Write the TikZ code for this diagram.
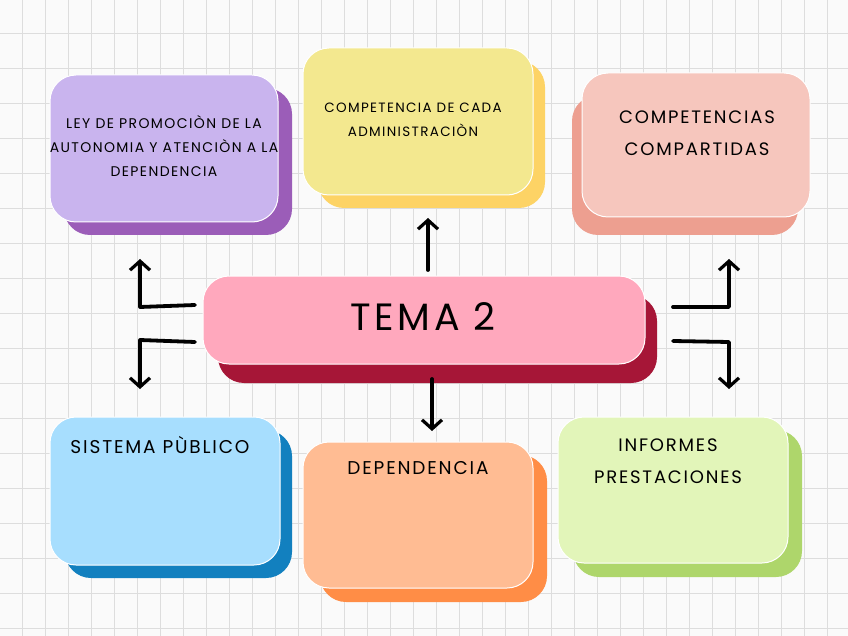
\documentclass[tikz,border=0pt]{standalone}
\usepackage{fontspec}
\setmainfont{Poppins}[LetterSpace=10]
\usetikzlibrary{arrows.meta}
\definecolor{bgc}{HTML}{FAFAFA}
\definecolor{gridc}{HTML}{DDDDDD}
\definecolor{purF}{HTML}{C9B4EE}\definecolor{purS}{HTML}{9B5DB8}
\definecolor{yelF}{HTML}{F3E88F}\definecolor{yelS}{HTML}{FDD365}
\definecolor{salF}{HTML}{F6C6BD}\definecolor{salS}{HTML}{ED9F90}
\definecolor{pinF}{HTML}{FFA8BD}\definecolor{pinS}{HTML}{A61637}
\definecolor{bluF}{HTML}{A7DEFE}\definecolor{bluS}{HTML}{1280BF}
\definecolor{oraF}{HTML}{FFBC93}\definecolor{oraS}{HTML}{FF8D46}
\definecolor{greF}{HTML}{E2F5B9}\definecolor{greS}{HTML}{AED66B}
\tikzset{
  shadowbox/.style={rounded corners=26pt},
  frontbox/.style={rounded corners=26pt, draw=white, line width=1pt},
  label/.style={align=center, inner sep=0pt, text=black},
  arr/.style={line width=3.8pt, line cap=round, line join=round,
    -{Straight Barb[length=9pt,width=20pt,line width=3.2pt]}},
}
\begin{document}
\begin{tikzpicture}[x=1pt,y=-1pt]
\useasboundingbox (0,0) rectangle (848,636);
\fill[bgc] (0,0) rectangle (848,636);
% grid paper
\foreach \i in {0,...,36} {\draw[gridc, line width=0.5pt] ({22+23*\i},0) -- ({22+23*\i},636);}
\foreach \j in {0,...,18} {\draw[gridc, line width=0.5pt] (0,{33+35*\j}) -- (848,{33+35*\j});}
% purple card
\fill[purS, shadowbox] (64,88) rectangle (292,235);
\fill[purF, frontbox] (50,75) rectangle (278,222);
\node[label, font=\fontsize{14}{24}\selectfont] (ley) at (164,146)
  {LEY DE PROMOCIÒN DE LA\\AUTONOMIA Y ATENCIÒN A LA\\DEPENDENCIA};
% yellow card
\fill[yelS, shadowbox] (318,61) rectangle (545,208);
\fill[yelF, frontbox] (303,48) rectangle (533,195);
\node[label, font=\fontsize{13.5}{24}\selectfont] (comp) at (413,120)
  {COMPETENCIA DE CADA\\ADMINISTRACIÒN};
% salmon card
\fill[salS, shadowbox] (572,95) rectangle (798,235);
\fill[salF, frontbox] (582,73) rectangle (810,217);
\node[label, font=\fontsize{18}{32}\selectfont] (compart) at (697,133)
  {COMPETENCIAS\\COMPARTIDAS};
% central card
\fill[pinS, shadowbox] (218,295) rectangle (657,383);
\fill[pinF, frontbox] (203,276) rectangle (645,364);
\node[label, font=\fontsize{38}{40}\selectfont] (tema) at (423,317) {TEMA 2};
% blue card
\fill[bluS, shadowbox] (65,430) rectangle (292,578);
\fill[bluF, frontbox] (50,417) rectangle (280,565);
\node[label, font=\fontsize{18.5}{24}\selectfont] (sist) at (160,445) {SISTEMA PÙBLICO};
% orange card
\fill[oraS, shadowbox] (320,455) rectangle (547,602);
\fill[oraF, frontbox] (303,442) rectangle (533,588);
\node[label, font=\fontsize{18.5}{24}\selectfont] (dep) at (418,468) {DEPENDENCIA};
% green card
\fill[greS, shadowbox] (573,430) rectangle (802,577);
\fill[greF, frontbox] (558,417) rectangle (788,563);
\node[label, font=\fontsize{18}{32}\selectfont] (inf) at (668,461)
  {INFORMES\\PRESTACIONES};
% connector points
\coordinate (upS) at (428,270); \coordinate (upE) at (428,218);
\coordinate (dnS) at (432,379); \coordinate (dnE) at (432,431);
\coordinate (la1) at (195,305); \coordinate (la2) at (140,307); \coordinate (la3) at (140,259);
\coordinate (lb1) at (195,342); \coordinate (lb2) at (140,340); \coordinate (lb3) at (140,389);
\coordinate (ra1) at (673,307); \coordinate (ra2) at (729,307); \coordinate (ra3) at (729,259);
\coordinate (rb1) at (673,341); \coordinate (rb2) at (729,342); \coordinate (rb3) at (729,389);
\draw[arr] (upS) -- (upE);
\draw[arr] (dnS) -- (dnE);
\draw[arr] (la1) -- (la2) -- (la3);
\draw[arr] (lb1) -- (lb2) -- (lb3);
\draw[arr] (ra1) -- (ra2) -- (ra3);
\draw[arr] (rb1) -- (rb2) -- (rb3);
\end{tikzpicture}
\end{document}
